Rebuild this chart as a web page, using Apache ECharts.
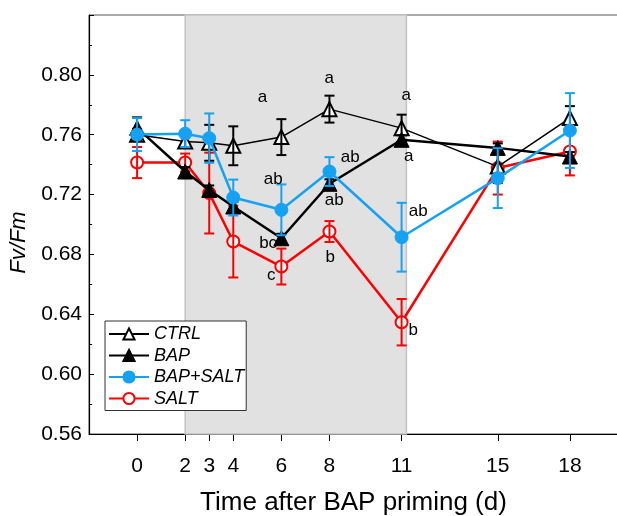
<!DOCTYPE html>
<html>
<head>
<meta charset="utf-8">
<script src="https://cdn.jsdelivr.net/npm/echarts@6/dist/echarts.min.js"></script>
<style>html,body{margin:0;padding:0;background:#fff}#c{width:617px;height:516px}</style>
</head>
<body>
<div id="c"></div>
<script>
var days = [0, 2, 3, 4, 6, 8, 11, 15, 18];
var ctrl = [0.760, 0.7554, 0.7546, 0.7526, 0.7584, 0.7771, 0.7644, 0.7387, 0.7711];
var ctrlErr = [0.004, 0.004, 0.012, 0.013, 0.012, 0.009, 0.009, 0.011, 0.008];
var bap = [0.7646, 0.7354, 0.7231, 0.712, 0.6908, 0.7272, 0.7566, 0.7512, 0.7454];
var bapErr = [0.007, 0.003, 0.003, 0.003, 0.003, 0.003, 0.003, 0.003, 0.003];
var bapSalt = [0.7601, 0.7607, 0.7577, 0.718, 0.7098, 0.7354, 0.6915, 0.731, 0.7628];
var bapSaltErr = [0.011, 0.009, 0.0165, 0.012, 0.017, 0.0096, 0.023, 0.02, 0.025];
var salt = [0.7414, 0.7414, 0.721, 0.6886, 0.6719, 0.6953, 0.6347, 0.7377, 0.7488];
var saltErr = [0.0104, 0.006, 0.027, 0.024, 0.012, 0.007, 0.0155, 0.0177, 0.016];
var yTicks = [0.56, 0.60, 0.64, 0.68, 0.72, 0.76, 0.80];
var shadeRange = [2, 11.2];
var letterText = ['a', 'a', 'a', 'a', 'ab', 'ab', 'ab', 'bc', 'c', 'b', 'ab', 'b'];
var letterX = [5.21, 7.99, 11.19, 11.3, 5.66, 8.86, 8.2, 5.45, 5.58, 8.03, 11.69, 11.48];
var letterY = [0.7853, 0.798, 0.7866, 0.7455, 0.7305, 0.7452, 0.7164, 0.6877, 0.6663, 0.6783, 0.709, 0.6295];

var FONT = '"Liberation Sans", Arial, sans-serif';
var BLUE = '#16a2f2', RED = '#ff0000';

function pts(ys) { return days.map(function (d, i) { return [d, ys[i]]; }); }
function errs(ys, es) { return days.map(function (d, i) { return [d, ys[i] - es[i], ys[i] + es[i]]; }); }
function errSeries(ys, es, color, z) {
  return {
    type: 'custom', z: z, silent: true,
    data: errs(ys, es),
    renderItem: function (params, api) {
      var x = api.value(0);
      var lo = api.coord([x, api.value(1)]);
      var hi = api.coord([x, api.value(2)]);
      var w = 5;
      var st = { stroke: color, lineWidth: 2 };
      return { type: 'group', children: [
        { type: 'line', shape: { x1: lo[0], y1: lo[1], x2: hi[0], y2: hi[1] }, style: st },
        { type: 'line', shape: { x1: lo[0] - w, y1: lo[1], x2: lo[0] + w, y2: lo[1] }, style: st },
        { type: 'line', shape: { x1: hi[0] - w, y1: hi[1], x2: hi[0] + w, y2: hi[1] }, style: st }
      ]};
    }
  };
}

var chart = echarts.init(document.getElementById('c'), null, { renderer: 'canvas' });
chart.setOption({
  animation: false,
  backgroundColor: '#fff',
  textStyle: { fontFamily: FONT },
  grid: { left: 89, right: -1, top: 15, bottom: 82, outerBoundsMode: 'none', containLabel: false,
          show: true, borderColor: '#555', borderWidth: 1, backgroundColor: 'transparent' },
  legend: {
    data: ['CTRL', 'BAP', 'BAP+SALT', 'SALT'],
    orient: 'vertical', left: 105, top: 321,
    itemWidth: 40, itemHeight: 14, itemGap: 3.5,
    padding: [4, 2, 3, 3],
    borderColor: '#333', borderWidth: 1, backgroundColor: '#fff',
    textStyle: { fontFamily: FONT, fontSize: 18, fontStyle: 'italic', color: '#000' }
  },
  xAxis: {
    type: 'value', min: -2, max: 20,
    name: 'Time after BAP priming (d)', nameLocation: 'middle', nameGap: 56,
    nameTextStyle: { fontSize: 26, color: '#000', fontFamily: FONT },
    axisLine: { onZero: false, lineStyle: { color: '#000', width: 1.2 } },
    axisTick: { show: true, inside: false, length: 7, customValues: days, lineStyle: { color: '#000', width: 1 } },
    axisLabel: { customValues: days, fontSize: 21, color: '#000', margin: 22, fontFamily: FONT },
    splitLine: { show: false }
  },
  yAxis: {
    type: 'value', min: 0.56, max: 0.84, interval: 0.04,
    name: 'Fv/Fm', nameLocation: 'middle', nameGap: 59,
    nameTextStyle: { fontSize: 22, fontStyle: 'italic', color: '#000', fontFamily: FONT, padding: [0, 36, 0, 0] },
    axisLine: { show: true, onZero: false, lineStyle: { color: '#000', width: 1.2 } },
    axisTick: { show: true, inside: true, length: 5, lineStyle: { color: '#000' } },
    minorTick: { show: true, splitNumber: 2, length: 3, lineStyle: { color: '#000' } },
    axisLabel: {
      fontSize: 21, color: '#000', margin: 7, fontFamily: FONT,
      formatter: function (v) {
        for (var i = 0; i < yTicks.length; i++) if (Math.abs(v - yTicks[i]) < 1e-6) return yTicks[i].toFixed(2);
        return '';
      }
    },
    splitLine: { show: false }
  },
  series: [
    {
      name: 'shade', type: 'line', data: [], silent: true, z: 0,
      markArea: {
        silent: true,
        itemStyle: { color: '#e1e1e1', borderColor: '#c4c4c4', borderWidth: 1.5 },
        data: [[{ xAxis: shadeRange[0], yAxis: 0.56 }, { xAxis: shadeRange[1], yAxis: 0.84 }]]
      }
    },
    {
      name: 'SALT', type: 'line', data: pts(salt), z: 3,
      symbol: 'circle', symbolSize: 12,
      lineStyle: { color: RED, width: 2.5 },
      itemStyle: { color: '#fff', borderColor: RED, borderWidth: 2 }
    },
    errSeries(salt, saltErr, RED, 4),
    {
      name: 'CTRL', type: 'line', data: pts(ctrl), z: 5,
      symbol: 'triangle', symbolSize: 14,
      lineStyle: { color: '#000', width: 1.5 },
      itemStyle: { color: '#fff', borderColor: '#000', borderWidth: 2 }
    },
    errSeries(ctrl, ctrlErr, '#000', 6),
    {
      name: 'BAP', type: 'line', data: pts(bap), z: 7,
      symbol: 'triangle', symbolSize: 15,
      lineStyle: { color: '#000', width: 2.5 },
      itemStyle: { color: '#000', borderColor: '#000', borderWidth: 1 }
    },
    errSeries(bap, bapErr, '#000', 8),
    {
      name: 'BAP+SALT', type: 'line', data: pts(bapSalt), z: 9,
      symbol: 'circle', symbolSize: 13,
      lineStyle: { color: BLUE, width: 2.5 },
      itemStyle: { color: BLUE, borderColor: BLUE, borderWidth: 1 }
    },
    errSeries(bapSalt, bapSaltErr, BLUE, 10),
    {
      name: 'letters', type: 'scatter', z: 12, silent: true,
      symbolSize: 1, itemStyle: { color: '#000', opacity: 0 },
      data: letterX.map(function (x, i) { return [x, letterY[i], letterText[i]]; }),
      label: {
        show: true, position: 'inside', color: '#000', opacity: 1, fontSize: 17, fontFamily: FONT,
        textBorderWidth: 0, textBorderColor: 'transparent',
        formatter: function (p) { return p.data[2]; }
      }
    }
  ]
});
</script>
</body>
</html>
